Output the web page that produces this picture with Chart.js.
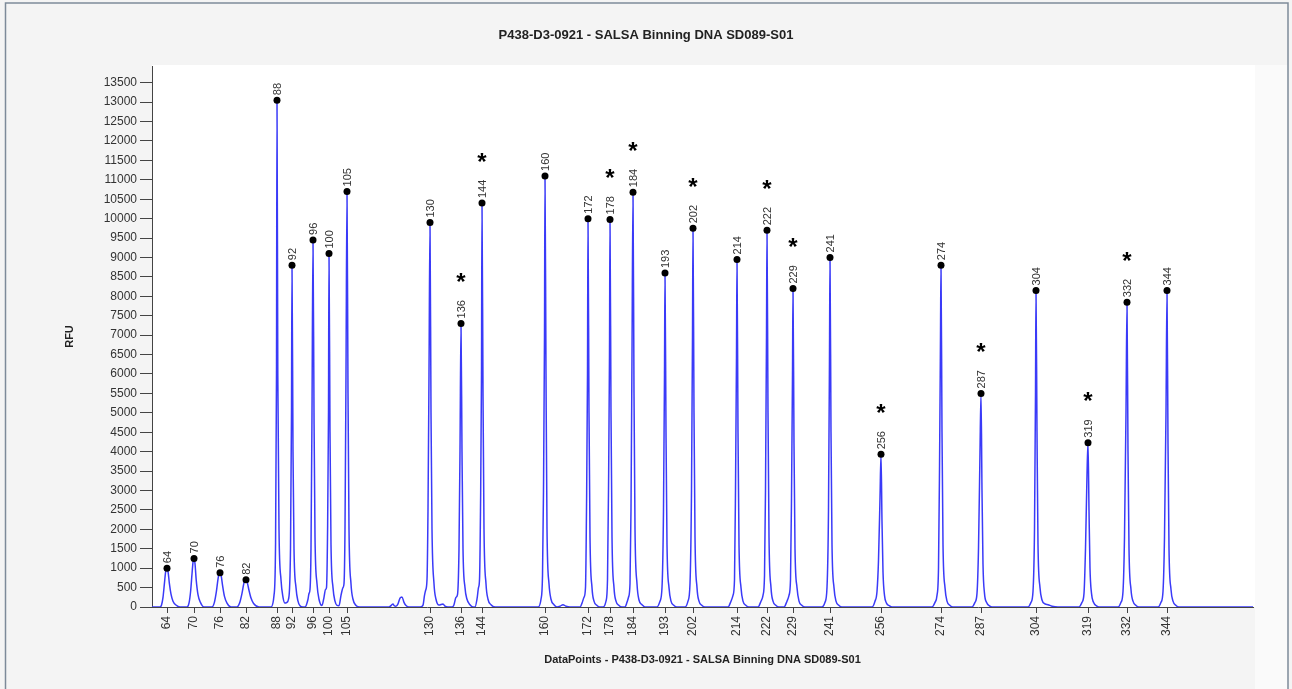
<!DOCTYPE html>
<html>
<head>
<meta charset="utf-8">
<script src="https://cdn.jsdelivr.net/npm/chart.js@4.4.1/dist/chart.umd.min.js"></script>
<style>
    html, body { margin: 0; padding: 0; background: #f4f4f4; }
    canvas { display: block; }
</style>
</head>
<body>
<canvas id="chart" width="1292" height="689"></canvas>
<script>
const TITLE = 'P438-D3-0921 - SALSA Binning DNA SD089-S01'
const X_TITLE = 'DataPoints - P438-D3-0921 - SALSA Binning DNA SD089-S01'
const Y_TITLE = 'RFU'

// called peaks: fragment size (nt), scan position and height
const PEAK_SIZES = [64, 70, 76, 82, 88, 92, 96, 100, 105, 130, 136, 144, 160, 172, 178, 184, 193, 202, 214, 222, 229, 241, 256, 274, 287, 304, 319, 332, 344]
const PEAK_DP = [835, 970, 1100, 1230, 1385, 1460, 1565, 1645, 1735, 2150, 2305, 2410, 2725, 2940, 3050, 3165, 3325, 3465, 3685, 3835, 3965, 4150, 4405, 4705, 4905, 5180, 5440, 5635, 5835]
const PEAK_RFU = [1000, 1250, 880, 700, 13050, 8800, 9450, 9100, 10700, 9900, 7300, 10400, 11100, 10000, 9980, 10680, 8600, 9750, 8950, 9700, 8200, 9000, 3930, 8800, 5500, 8150, 4230, 7850, 8150]
const STARRED = [136, 144, 178, 184, 202, 222, 229, 256, 287, 319, 332]

const Y_TICKS = [0, 500, 1000, 1500, 2000, 2500, 3000, 3500, 4000, 4500, 5000, 5500, 6000, 6500, 7000, 7500, 8000, 8500, 9000, 9500, 10000, 10500, 11000, 11500, 12000, 12500, 13000, 13500]

// electropherogram trace [data point, RFU]
const TRACE = [
    [760, 0], [800, 0], [808, 60], [815, 250], [822, 600], [828, 900], [835, 1000], [841, 880], [847, 600], [855, 330], [865, 150], [880, 50], [900, 0],
    [935, 0], [945, 100], [953, 400], [960, 850], [965, 1150], [970, 1250], [975, 1120], [981, 700], [990, 320], [1002, 120], [1020, 0],
    [1060, 0], [1072, 120], [1082, 400], [1090, 720], [1095, 850], [1100, 880], [1106, 800], [1113, 550], [1122, 280], [1135, 100], [1155, 0],
    [1185, 0], [1198, 100], [1210, 350], [1219, 600], [1225, 690], [1230, 700], [1236, 640], [1244, 450], [1255, 230], [1268, 90], [1295, 0],
    [1355, 0], [1370, 300], [1377.5, 1500], [1382.5, 6000], [1385, 13050], [1389, 6000], [1395, 2000], [1405, 700], [1415, 250], [1425, 100], [1435, 120], [1442.5, 200],
    [1452.5, 1500], [1457.5, 5000], [1460, 8800], [1465, 4000], [1470, 1500], [1480, 500], [1490, 150], [1500, 30], [1515, 0],
    [1525, 0], [1540, 200], [1545, 350], [1550, 450], [1555, 1500], [1560, 5000], [1565, 9450], [1570, 5000], [1575, 1800], [1585, 600], [1595, 200], [1610, 40],
    [1620, 250], [1627.5, 450], [1632.5, 500], [1637.5, 1800], [1642.5, 5000], [1645, 9100], [1650, 4500], [1655, 1600], [1665, 500], [1675, 150], [1685, 40], [1695, 30],
    [1705, 300], [1715, 500], [1720, 600], [1725, 2000], [1730, 6000], [1735, 10700], [1740, 5500], [1745, 2000], [1755, 600], [1765, 200], [1780, 40], [1800, 0],
    [1945, 0], [1960, 60], [1965, 80], [1970, 40], [1980, 20], [1990, 80], [2000, 230], [2010, 260], [2020, 120], [2030, 40], [2045, 0],
    [2100, 0], [2115, 50], [2122.5, 300], [2127.5, 420], [2135, 700], [2140, 2500], [2145, 6000], [2150, 9900], [2155, 5000], [2160, 2000], [2170, 600], [2180, 200], [2195, 50], [2215, 80], [2225, 20], [2240, 0],
    [2260, 0], [2270, 60], [2280, 250], [2287.5, 320], [2295, 1500], [2300, 4000], [2305, 7300], [2310, 4000], [2315, 1500], [2325, 500], [2335, 200], [2350, 60], [2365, 0],
    [2375, 0], [2385, 200], [2392.5, 500], [2397.5, 700], [2402.5, 2500], [2407.5, 6000], [2410, 10400], [2415, 5500], [2420, 2000], [2430, 600], [2440, 200], [2455, 60], [2475, 0],
    [2690, 0], [2705, 200], [2712.5, 800], [2717.5, 3000], [2722.5, 7000], [2725, 11100], [2730, 6000], [2735, 2000], [2745, 600], [2755, 200], [2770, 60], [2785, 0], [2800, 20], [2815, 60], [2830, 20], [2850, 0],
    [2900, 0], [2910, 100], [2920, 250], [2927.5, 500], [2932.5, 2500], [2937.5, 6000], [2940, 10000], [2945, 5000], [2950, 1800], [2960, 500], [2970, 150], [2985, 40], [3000, 0],
    [3015, 0], [3030, 150], [3037.5, 700], [3042.5, 3000], [3047.5, 6500], [3050, 9980], [3055, 5000], [3060, 1800], [3070, 500], [3080, 150], [3095, 40], [3110, 0],
    [3125, 0], [3135, 120], [3142.5, 250], [3150, 600], [3155, 2500], [3160, 6500], [3165, 10680], [3170, 5500], [3175, 2000], [3185, 600], [3195, 180], [3210, 60], [3225, 0],
    [3285, 0], [3300, 150], [3310, 500], [3317.5, 2500], [3322.5, 6000], [3325, 8600], [3330, 4500], [3335, 1600], [3345, 500], [3355, 150], [3370, 40], [3385, 0],
    [3425, 0], [3440, 150], [3450, 600], [3457.5, 3000], [3462.5, 7000], [3465, 9750], [3470, 5000], [3475, 1800], [3485, 500], [3495, 150], [3510, 40], [3525, 0],
    [3640, 0], [3655, 150], [3665, 300], [3672.5, 700], [3677.5, 3000], [3682.5, 6500], [3685, 8950], [3690, 4500], [3695, 1600], [3705, 500], [3715, 150], [3730, 40], [3745, 0],
    [3790, 0], [3805, 150], [3815, 300], [3822.5, 800], [3827.5, 3000], [3832.5, 7000], [3835, 9700], [3840, 5000], [3845, 1800], [3855, 500], [3865, 150], [3880, 40], [3895, 0],
    [3920, 0], [3935, 150], [3945, 300], [3952.5, 700], [3957.5, 2800], [3962.5, 6000], [3965, 8200], [3970, 4200], [3975, 1500], [3985, 500], [3995, 150], [4010, 40], [4025, 0],
    [4110, 0], [4125, 120], [4135, 500], [4142.5, 2500], [4147.5, 6500], [4150, 9000], [4155, 4500], [4160, 1600], [4170, 500], [4180, 150], [4195, 40], [4210, 0],
    [4360, 0], [4375, 150], [4385, 400], [4392.5, 1200], [4400, 2800], [4405, 3930], [4410, 2200], [4415, 900], [4422.5, 300], [4432.5, 100], [4447.5, 30], [4460, 0],
    [4660, 0], [4675, 120], [4685, 300], [4692.5, 1000], [4697.5, 3500], [4702.5, 7000], [4705, 8800], [4710, 4500], [4715, 1600], [4725, 500], [4735, 150], [4750, 40], [4765, 0],
    [4860, 0], [4875, 120], [4885, 350], [4892.5, 1500], [4900, 4000], [4905, 5500], [4910, 3000], [4915, 1100], [4922.5, 350], [4932.5, 120], [4947.5, 30], [4960, 0],
    [5140, 0], [5155, 120], [5165, 400], [5172.5, 2000], [5177.5, 5500], [5180, 8150], [5185, 4500], [5190, 1600], [5200, 500], [5210, 180], [5225, 80], [5240, 60], [5260, 20], [5290, 0],
    [5395, 0], [5410, 120], [5420, 350], [5427.5, 1500], [5435, 3400], [5440, 4230], [5445, 2500], [5450, 1000], [5457.5, 350], [5467.5, 120], [5482.5, 30], [5495, 0],
    [5590, 0], [5605, 120], [5615, 400], [5622.5, 1800], [5630, 5000], [5635, 7850], [5640, 4000], [5645, 1500], [5655, 450], [5665, 150], [5680, 40], [5695, 0],
    [5790, 0], [5805, 120], [5815, 400], [5822.5, 1800], [5830, 5000], [5835, 8150], [5840, 4200], [5845, 1500], [5855, 450], [5865, 150], [5880, 40], [5895, 0],
    [6265, 0]
]

const FONT = 'Arial, "Liberation Sans", sans-serif'
const TEXT_COLOR = '#333'

const backdrop = {
    id: 'backdrop',
    beforeDraw(chart) {
        const {ctx, chartArea: area, width, height} = chart
        ctx.save()
        ctx.fillStyle = '#f4f4f4'
        ctx.fillRect(0, 0, width, height)
        ctx.fillStyle = '#fafafa'
        ctx.fillRect(area.right + 2, area.top - 1, 1288 - area.right - 2, height)
        ctx.fillStyle = '#ffffff'
        ctx.fillRect(area.left, area.top - 1, area.right - area.left + 2, area.bottom - area.top + 1)
        ctx.strokeStyle = '#7d8a99'
        ctx.lineWidth = 1.5
        ctx.beginPath()
        ctx.moveTo(5.5, height)
        ctx.lineTo(5.5, 3)
        ctx.lineTo(1288, 3)
        ctx.lineTo(1288, height)
        ctx.stroke()
        ctx.restore()
    }
}

const annotations = {
    id: 'annotations',
    afterDatasetsDraw(chart) {
        const {ctx, scales} = chart
        ctx.save()
        PEAK_SIZES.forEach((size, i) => {
            let x = scales.x.getPixelForValue(PEAK_DP[i])
            let y = scales.y.getPixelForValue(PEAK_RFU[i])
            ctx.save()
            ctx.translate(x, y - 5)
            ctx.rotate(-Math.PI / 2)
            ctx.fillStyle = TEXT_COLOR
            ctx.font = '11px ' + FONT
            ctx.textAlign = 'left'
            ctx.textBaseline = 'middle'
            ctx.fillText(String(size), 0, 0.5)
            ctx.restore()
            if (STARRED.includes(size)) {
                ctx.fillStyle = '#000'
                ctx.font = 'bold 24px ' + FONT
                ctx.textAlign = 'center'
                ctx.textBaseline = 'alphabetic'
                let m = ctx.measureText('*')
                let cy = y - 46
                ctx.fillText('*', x, cy + (m.actualBoundingBoxAscent - m.actualBoundingBoxDescent) / 2)
            }
        })
        ctx.restore()
    },
    afterDraw(chart) {
        const {ctx, chartArea: area, width} = chart
        ctx.save()
        ctx.fillStyle = '#222'
        ctx.textAlign = 'center'
        ctx.textBaseline = 'middle'
        ctx.font = 'bold 13px ' + FONT
        ctx.fillText(TITLE, width / 2, 35)
        ctx.font = 'bold 11px ' + FONT
        ctx.fillText(X_TITLE, (area.left + area.right) / 2, 660)
        ctx.translate(70, (area.top + area.bottom) / 2)
        ctx.rotate(-Math.PI / 2)
        ctx.fillText(Y_TITLE, 0, 0)
        ctx.restore()
    }
}

new Chart(document.getElementById('chart').getContext('2d'), {
    'type': 'line',
    'data': {
        'datasets': [{
            'data': PEAK_DP.map((x, i) => ({x: x, y: PEAK_RFU[i]})),
            'showLine': false,
            'pointRadius': 3.5,
            'pointBackgroundColor': '#000',
            'pointBorderColor': '#000',
            'pointBorderWidth': 0,
            'order': 0
        }, {
            'data': TRACE.map(p => ({x: p[0], y: p[1]})),
            'borderColor': '#3a3af8',
            'borderWidth': 1.5,
            'pointRadius': 0,
            'fill': false,
            'cubicInterpolationMode': 'monotone',
            'order': 1
        }]
    },
    'options': {
        'responsive': false,
        'animation': false,
        'devicePixelRatio': 1,
        'layout': {
            'padding': {'top': 66, 'right': 39, 'left': 0, 'bottom': 0}
        },
        'plugins': {
            'legend': {'display': false},
            'tooltip': {'enabled': false}
        },
        'scales': {
            'x': {
                'type': 'linear',
                'min': 760,
                'max': 6265,
                'afterBuildTicks': scale => { scale.ticks = PEAK_DP.map(v => ({value: v})) },
                'afterFit': scale => { scale.height = 82 },
                'ticks': {
                    'autoSkip': false,
                    'minRotation': 90,
                    'maxRotation': 90,
                    'padding': 3,
                    'color': TEXT_COLOR,
                    'font': {'family': FONT, 'size': 12},
                    'callback': value => String(PEAK_SIZES[PEAK_DP.indexOf(value)])
                },
                'grid': {
                    'drawOnChartArea': false,
                    'tickLength': 6,
                    'color': '#444'
                },
                'border': {'color': '#444', 'width': 1}
            },
            'y': {
                'min': 0,
                'max': 13930,
                'afterBuildTicks': scale => { scale.ticks = Y_TICKS.map(v => ({value: v})) },
                'afterFit': scale => { scale.width = 152 },
                'ticks': {
                    'padding': 3,
                    'color': TEXT_COLOR,
                    'font': {'family': FONT, 'size': 12},
                    'callback': value => String(value)
                },
                'grid': {
                    'drawOnChartArea': false,
                    'tickLength': 12,
                    'color': '#444'
                },
                'border': {'color': '#444', 'width': 1}
            }
        }
    },
    'plugins': [backdrop, annotations]
})
</script>
</body>
</html>
